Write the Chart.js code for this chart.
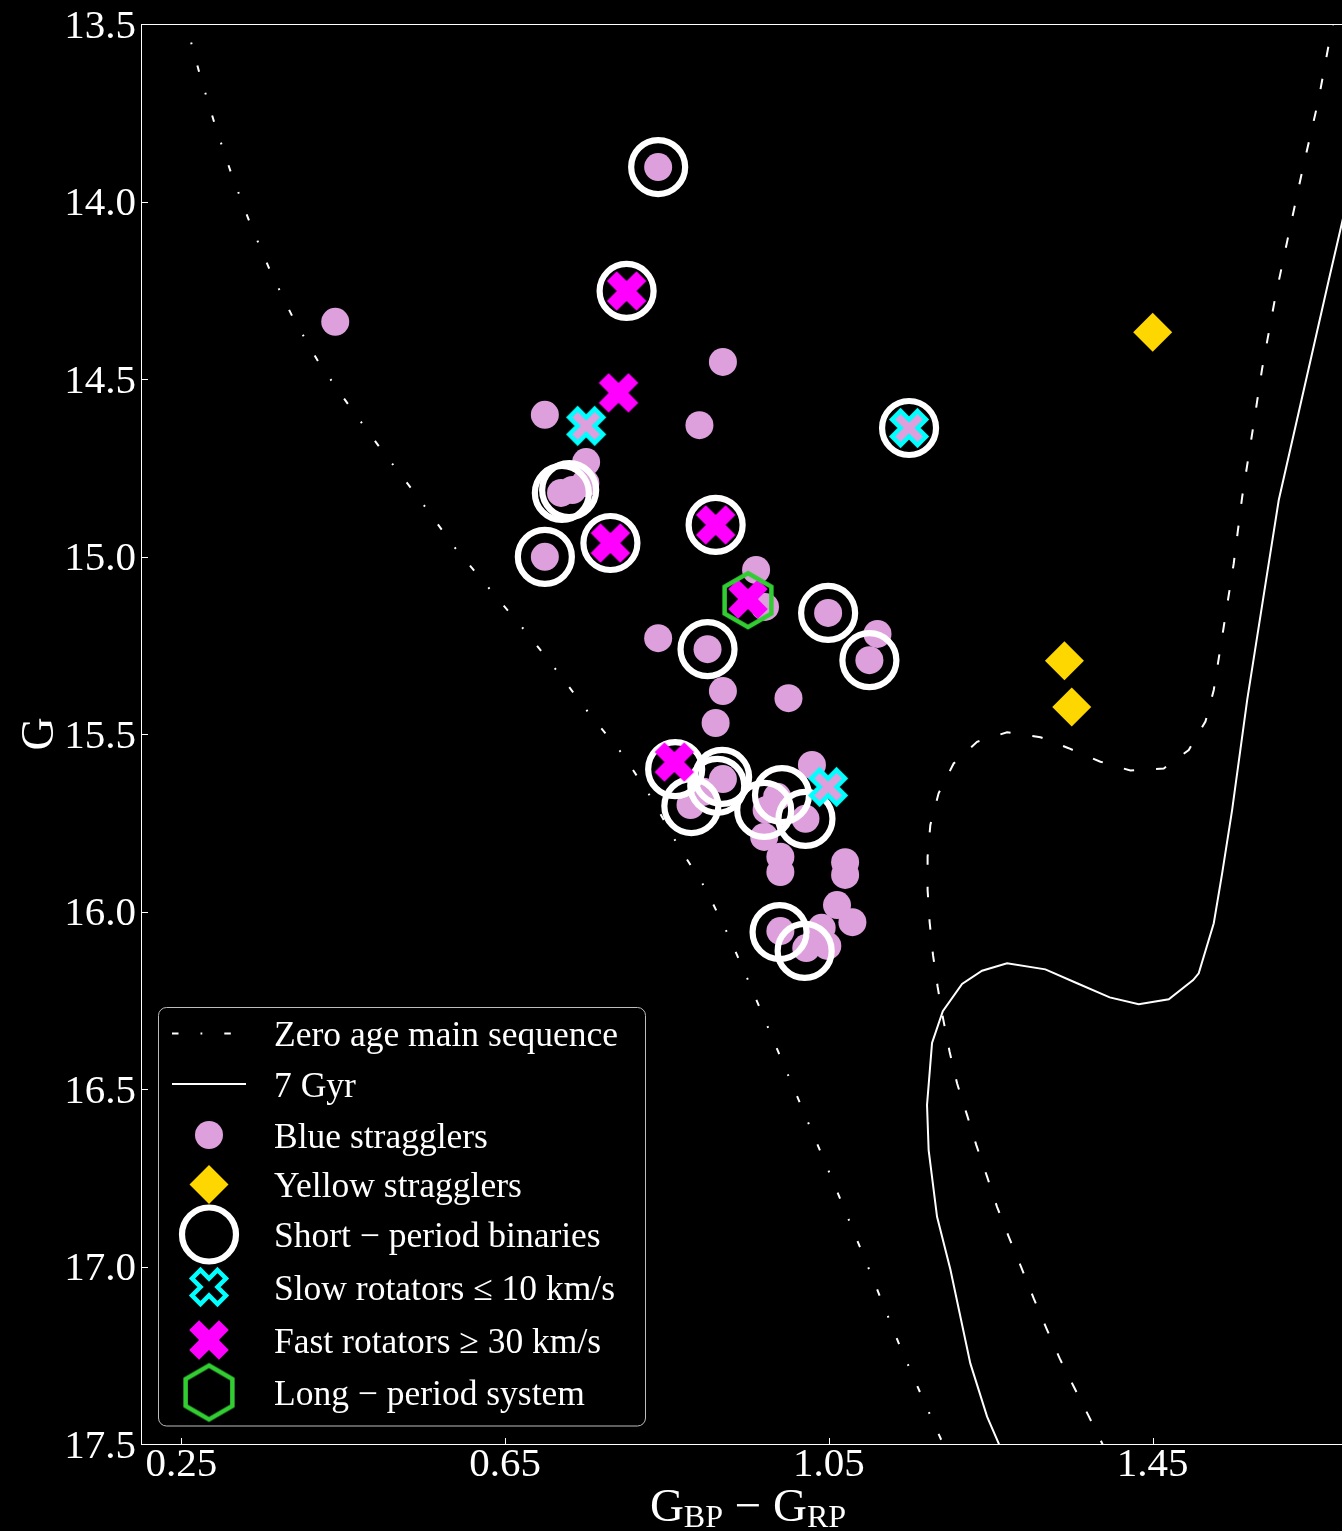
<!DOCTYPE html>
<html>
<head>
<meta charset="utf-8">
<title>Colour–magnitude diagram</title>
<script src="https://cdn.jsdelivr.net/npm/chart.js@4.4.1/dist/chart.umd.min.js"></script>
<style>
  html, body { margin: 0; padding: 0; background: #000; overflow: hidden; }
  #wrap { position: relative; width: 1355px; height: 1531px; }
  canvas { display: block; }
</style>
</head>
<body>
<div id="wrap"><canvas id="cmd" width="1355" height="1531"></canvas></div>
<script>
// ---------------- axis ticks ----------------
const xTickValues = [0.25, 0.65, 1.05, 1.45];
const xTickLabels = ['0.25', '0.65', '1.05', '1.45'];
const yTickValues = [13.5, 14.0, 14.5, 15.0, 15.5, 16.0, 16.5, 17.0, 17.5];
const yTickLabels = ['13.5', '14.0', '14.5', '15.0', '15.5', '16.0', '16.5', '17.0', '17.5'];

// ---------------- model curves ----------------
// zero age main sequence
const zamsColour = [0.2519, 0.2565, 0.2729, 0.2915, 0.3121, 0.3347, 0.3603, 0.3879, 0.4200, 0.4583,
  0.4954, 0.5449, 0.5881, 0.6339, 0.6759, 0.7179, 0.7550, 0.7958, 0.8313, 0.8625, 0.8972, 0.9256,
  0.9515, 1.0022, 1.0517, 1.0950, 1.1382, 1.1629, 1.1889, 1.1938];
const zamsMag = [13.475, 13.506, 13.644, 13.785, 13.925, 14.061, 14.199, 14.328, 14.455, 14.579,
  14.694, 14.841, 14.976, 15.100, 15.213, 15.334, 15.446, 15.559, 15.683, 15.810, 15.934, 16.066,
  16.201, 16.475, 16.742, 16.982, 17.227, 17.356, 17.489, 17.531];

// 7 Gyr isochrone
const iso7Colour = [1.7019, 1.6833, 1.6676, 1.6058, 1.5915, 1.5668, 1.5482, 1.5359, 1.5255, 1.5069,
  1.5000, 1.4699, 1.4328, 1.3969, 1.3566, 1.3174, 1.2701, 1.2392, 1.2145, 1.1907, 1.1774, 1.1712,
  1.1732, 1.1836, 1.2000, 1.2247, 1.2454, 1.2597, 1.2643];
const iso7Mag = [13.883, 14.066, 14.221, 14.841, 15.047, 15.404, 15.714, 15.892, 16.033, 16.174,
  16.193, 16.247, 16.261, 16.242, 16.202, 16.163, 16.146, 16.167, 16.204, 16.281, 16.370, 16.545,
  16.672, 16.860, 17.008, 17.273, 17.423, 17.498, 17.531];

// second (dashed) isochrone
const isoBColour = [1.6759, 1.6709, 1.6549, 1.6351, 1.6166, 1.6009, 1.5853, 1.5730, 1.5606, 1.5502,
  1.5378, 1.5255, 1.5152, 1.4946, 1.4637, 1.4225, 1.3854, 1.3462, 1.3113, 1.2701, 1.2330, 1.2041,
  1.1855, 1.1753, 1.1719, 1.1719, 1.1744, 1.1786, 1.1843, 1.1910, 1.1991, 1.2083, 1.2206, 1.2321,
  1.2454, 1.2577, 1.2721, 1.2874, 1.3030, 1.3187, 1.3351, 1.3524, 1.3702, 1.3875, 1.3940];
const isoBMag = [13.475, 13.517, 13.714, 13.911, 14.108, 14.277, 14.470, 14.653, 14.832, 15.019,
  15.198, 15.376, 15.465, 15.545, 15.597, 15.603, 15.578, 15.540, 15.509, 15.495, 15.522, 15.583,
  15.667, 15.756, 15.846, 15.939, 16.029, 16.123, 16.212, 16.301, 16.395, 16.484, 16.573, 16.658,
  16.747, 16.832, 16.916, 17.001, 17.090, 17.174, 17.259, 17.338, 17.418, 17.498, 17.531];

// ---------------- stars ----------------
const bsColour = [0.839, 0.440, 0.919, 0.699, 0.890, 0.750, 0.749, 0.719, 0.733, 0.699,
  0.960, 0.971, 0.839, 0.900, 1.049, 1.110, 1.100, 0.919, 1.000, 0.910,
  1.029, 0.919, 0.879, 0.895, 0.986, 0.973, 1.021, 0.970, 0.990, 0.990,
  1.070, 1.070, 1.060, 1.079, 0.990, 1.041, 1.048, 1.022];
const bsMag = [13.903, 14.339, 14.452, 14.601, 14.630, 14.734, 14.793, 14.821, 14.813, 15.001,
  15.038, 15.142, 15.230, 15.261, 15.159, 15.218, 15.292, 15.379, 15.399, 15.469,
  15.587, 15.627, 15.700, 15.663, 15.677, 15.714, 15.739, 15.790, 15.846, 15.889,
  15.861, 15.897, 15.982, 16.030, 16.055, 16.046, 16.097, 16.103];

const ysColour = [1.450, 1.341, 1.350];
const ysMag = [14.368, 15.294, 15.424];

const spbColour = [0.839, 0.800, 1.149, 0.720, 0.729, 0.699, 0.780, 0.910, 1.049, 1.100,
  0.900, 0.860, 0.880, 0.912, 0.918, 0.992, 0.970, 1.021, 0.989, 1.020];
const spbMag = [13.903, 14.252, 14.638, 14.821, 14.813, 15.001, 14.962, 14.911, 15.159, 15.292,
  15.261, 15.599, 15.703, 15.646, 15.621, 15.672, 15.714, 15.739, 16.058, 16.111];

const slowColour = [0.750, 1.149, 1.049];
const slowMag = [14.632, 14.638, 15.649];

const fastColour = [0.800, 0.790, 0.780, 0.910, 0.950, 0.859];
const fastMag = [14.252, 14.539, 14.962, 14.911, 15.120, 15.579];

const longColour = [0.950];
const longMag = [15.123];

// ---------------- marker glyphs ----------------
const PLUM = '#dda0dd', GOLD = '#ffd700', MAGENTA = '#ff00ff', CYAN = '#00ffff', GREEN = '#32cd32';

function crossGlyph(size, fill, stroke, lw) {
  const ext = Math.ceil(size * 0.48 + lw * 1.5) + 3;
  const c = document.createElement('canvas');
  c.width = c.height = ext * 2;
  const g = c.getContext('2d');
  g.translate(ext, ext);
  g.rotate(Math.PI / 4);
  const u = size / 6;
  const v = [[-1, -3], [1, -3], [1, -1], [3, -1], [3, 1], [1, 1], [1, 3], [-1, 3], [-1, 1], [-3, 1], [-3, -1], [-1, -1]];
  g.beginPath();
  v.forEach(([a, b], i) => (i ? g.lineTo(a * u, b * u) : g.moveTo(a * u, b * u)));
  g.closePath();
  if (fill) { g.fillStyle = fill; g.fill(); }
  if (stroke) { g.lineJoin = 'miter'; g.lineWidth = lw; g.strokeStyle = stroke; g.stroke(); }
  return c;
}

function hexGlyph(r, stroke, lw) {
  const ext = Math.ceil(r + lw) + 3;
  const c = document.createElement('canvas');
  c.width = c.height = ext * 2;
  const g = c.getContext('2d');
  g.translate(ext, ext);
  g.beginPath();
  for (let k = 0; k < 6; k++) {
    const a = -Math.PI / 2 + k * Math.PI / 3;
    const px = r * Math.cos(a), py = r * Math.sin(a);
    k ? g.lineTo(px, py) : g.moveTo(px, py);
  }
  g.closePath();
  g.lineJoin = 'miter';
  g.lineWidth = lw;
  g.strokeStyle = stroke;
  g.stroke();
  return c;
}

const fastGlyph = crossGlyph(42, MAGENTA, null, 0);
const slowGlyph = crossGlyph(36, PLUM, CYAN, 4.5);
const slowGlyphKey = crossGlyph(36, '#000', CYAN, 4.5);
const longGlyph = hexGlyph(27, GREEN, 4.5);

const pts = (xs, ys) => xs.map((x, i) => ({ x, y: ys[i] }));

// ---------------- plugins ----------------
const SERIF = '"Liberation Serif", "DejaVu Serif", serif';

const frame = {
  id: 'frame',
  afterDatasetsDraw(chart) {
    const { ctx, chartArea: a, scales } = chart;
    ctx.save();
    ctx.strokeStyle = '#ffffff';
    ctx.lineWidth = 1;
    ctx.strokeRect(a.left + 0.5, a.top + 0.5, a.right - a.left, a.bottom - a.top);
    // inward tick marks
    ctx.beginPath();
    xTickValues.forEach(v => {
      const p = Math.round(scales.x.getPixelForValue(v)) + 0.5;
      ctx.moveTo(p, a.bottom); ctx.lineTo(p, a.bottom - 6);
    });
    yTickValues.forEach(v => {
      const p = Math.round(scales.y.getPixelForValue(v)) + 0.5;
      ctx.moveTo(a.left, p); ctx.lineTo(a.left + 7, p);
    });
    ctx.stroke();
    ctx.restore();
  }
};

const axisTitles = {
  id: 'axisTitles',
  afterDraw(chart) {
    const { ctx, chartArea: a } = chart;
    ctx.save();
    ctx.fillStyle = '#ffffff';
    ctx.textBaseline = 'alphabetic';
    // x title: G_BP − G_RP
    const big = '47px ' + SERIF, small = '32px ' + SERIF;
    const parts = [['G', big, 0], ['BP', small, 6], [' \u2212 ', big, 0], ['G', big, 0], ['RP', small, 6]];
    let w = 0;
    parts.forEach(p => { ctx.font = p[1]; w += ctx.measureText(p[0]).width; });
    let x = 748 - w / 2;
    const base = 1521;
    parts.forEach(p => {
      ctx.font = p[1];
      ctx.textAlign = 'left';
      ctx.fillText(p[0], x, base + p[2]);
      x += ctx.measureText(p[0]).width;
    });
    // y title: G
    ctx.translate(53, (a.top + a.bottom) / 2);
    ctx.rotate(-Math.PI / 2);
    ctx.font = '46px ' + SERIF;
    ctx.textAlign = 'center';
    ctx.fillText('G', 0, 0);
    ctx.restore();
  }
};

const keyBox = {
  id: 'keyBox',
  afterDraw(chart) {
    const { ctx } = chart;
    const items = chart.data.datasets.filter(d => d.inKey !== false);
    const box = { x: 158.5, y: 1007.5, w: 487, h: 418.5, r: 8 };
    const rowY = [1033.5, 1084, 1135, 1184.5, 1234.5, 1287, 1340, 1392.5];
    ctx.save();
    ctx.beginPath();
    ctx.roundRect(box.x, box.y, box.w, box.h, box.r);
    ctx.fillStyle = '#000000';
    ctx.fill();
    ctx.lineWidth = 1;
    ctx.strokeStyle = '#bdbdbd';
    ctx.stroke();
    items.forEach((d, i) => {
      const y = rowY[i];
      const mx = 209;
      if (d.showLine) {
        ctx.save();
        ctx.beginPath();
        ctx.setLineDash(d.borderDash || []);
        ctx.lineWidth = d.borderWidth;
        ctx.strokeStyle = d.borderColor;
        ctx.moveTo(172, y); ctx.lineTo(246, y);
        ctx.stroke();
        ctx.restore();
      } else {
        const st = d.keyStyle || d.pointStyle;
        if (typeof st === 'object') {
          ctx.drawImage(st, mx - st.width / 2, y - st.height / 2);
        } else {
          const r = d.pointRadius;
          ctx.beginPath();
          if (st === 'rectRot') {
            ctx.moveTo(mx - r, y); ctx.lineTo(mx, y - r); ctx.lineTo(mx + r, y); ctx.lineTo(mx, y + r); ctx.closePath();
          } else {
            ctx.arc(mx, y, r, 0, Math.PI * 2);
          }
          ctx.fillStyle = d.pointBackgroundColor;
          ctx.fill();
          if (d.pointBorderWidth) {
            ctx.lineWidth = d.pointBorderWidth;
            ctx.strokeStyle = d.pointBorderColor;
            ctx.stroke();
          }
        }
      }
      ctx.fillStyle = '#ffffff';
      ctx.font = '35.5px ' + SERIF;
      ctx.textAlign = 'left';
      ctx.textBaseline = 'alphabetic';
      ctx.fillText(d.label, 274, y + 12.5);
    });
    ctx.restore();
  }
};

// ---------------- chart ----------------
const lineSet = (label, xs, ys, dash, order, inKey) => ({
  label, data: pts(xs, ys), showLine: true, borderColor: '#ffffff', borderWidth: 2,
  borderDash: dash, borderCapStyle: 'butt', pointRadius: 0, fill: false, tension: 0, order, inKey
});

new Chart(document.getElementById('cmd'), {
  type: 'scatter',
  data: {
    datasets: [
      lineSet('Zero age main sequence', zamsColour, zamsMag, [6.5, 22, 1.8, 22], 10, true),
      lineSet('7 Gyr', iso7Colour, iso7Mag, [], 9, true),
      {
        label: 'Blue stragglers', data: pts(bsColour, bsMag), pointStyle: 'circle', pointRadius: 14,
        pointBackgroundColor: PLUM, pointBorderWidth: 0, pointBorderColor: PLUM, order: 6
      },
      {
        label: 'Yellow stragglers', data: pts(ysColour, ysMag), pointStyle: 'rectRot', pointRadius: 19.5,
        pointBackgroundColor: GOLD, pointBorderWidth: 0, pointBorderColor: GOLD, order: 5
      },
      {
        label: 'Short \u2212 period binaries', data: pts(spbColour, spbMag), pointStyle: 'circle', pointRadius: 27,
        pointBackgroundColor: 'rgba(0,0,0,0)', pointBorderColor: '#ffffff', pointBorderWidth: 6.2, order: 4
      },
      {
        label: 'Slow rotators \u2264 10 km/s', data: pts(slowColour, slowMag), pointStyle: slowGlyph,
        keyStyle: slowGlyphKey, pointRadius: 20, order: 3
      },
      {
        label: 'Fast rotators \u2265 30 km/s', data: pts(fastColour, fastMag), pointStyle: fastGlyph,
        pointRadius: 20, order: 2
      },
      {
        label: 'Long \u2212 period system', data: pts(longColour, longMag), pointStyle: longGlyph,
        pointRadius: 28, order: 1
      },
      lineSet('', isoBColour, isoBMag, [10.5, 22], 11, false)
    ]
  },
  options: {
    responsive: false,
    animation: false,
    devicePixelRatio: 1,
    events: [],
    layout: { autoPadding: false, padding: { top: 24, left: 0, right: 0, bottom: 0 } },
    plugins: { legend: { display: false }, tooltip: { enabled: false } },
    scales: {
      x: {
        type: 'linear', min: 0.2, max: 1.7,
        afterFit: s => { s.height = 87; s.paddingLeft = 0; s.paddingRight = 0; },
        afterBuildTicks: s => { s.ticks = xTickValues.map(v => ({ value: v })); },
        grid: { display: false, drawTicks: false },
        border: { display: false },
        ticks: {
          color: '#ffffff', padding: -3, maxRotation: 0, autoSkip: false,
          font: { family: SERIF, size: 41 },
          callback: (v, i) => xTickLabels[i]
        }
      },
      y: {
        type: 'linear', min: 13.5, max: 17.5, reverse: true,
        afterFit: s => { s.width = 141; s.paddingTop = 0; s.paddingBottom = 0; },
        afterBuildTicks: s => { s.ticks = yTickValues.map(v => ({ value: v })); },
        grid: { display: false, drawTicks: false },
        border: { display: false },
        ticks: {
          color: '#ffffff', padding: 5, autoSkip: false, labelOffset: 3,
          font: { family: SERIF, size: 41 },
          callback: (v, i) => yTickLabels[i]
        }
      }
    }
  },
  plugins: [frame, axisTitles, keyBox]
});
</script>
</body>
</html>
